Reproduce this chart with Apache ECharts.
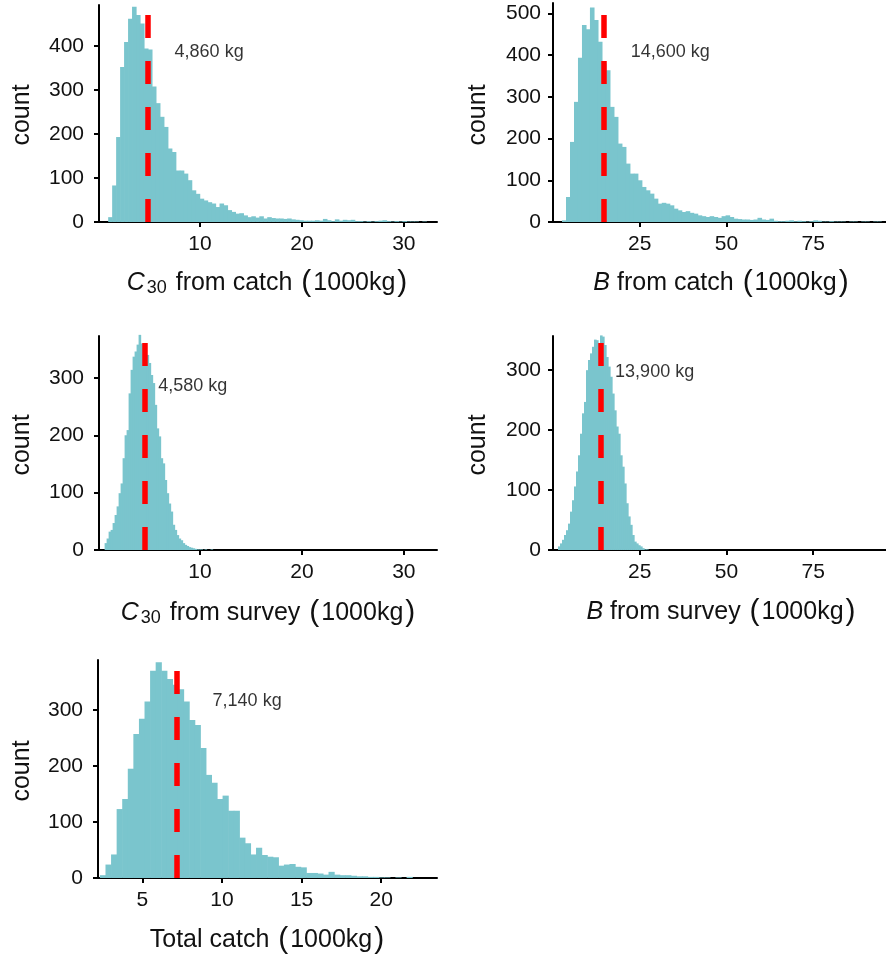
<!DOCTYPE html>
<html><head><meta charset="utf-8">
<script src="https://cdn.jsdelivr.net/npm/echarts@6/dist/echarts.min.js"></script>
<style>html,body{margin:0;padding:0;background:#fff}#c{width:886px;height:957px}</style>
</head><body><div id="c"></div>
<script>
// ---------------- data ----------------
// C30 from catch (1000kg): bins start / width / counts
const c30CatchStart = 1.0;
const c30CatchWidth = 0.39;
const c30CatchCounts = [11, 83, 193, 352, 409, 462, 489, 470, 451, 394, 392, 308, 270, 239, 216, 167, 159, 117, 117, 110,
  95, 72, 64, 53, 49, 45, 42, 34, 42, 38, 27, 23, 19, 20, 15, 11, 13, 10, 13, 8,
  11, 9, 8, 8, 7, 8, 6, 5, 4, 3, 3, 3, 4, 3, 7, 4, 2, 6, 3, 5,
  4, 5, 2, 2, 1, 2, 1, 2, 3, 4, 2, 1, 2, 1, 2, 1, 1, 1, 0, 1];

// B from catch (1000kg)
const bCatchStart = 2.6;
const bCatchWidth = 1.15;
const bCatchCounts = [4, 60, 192, 288, 394, 472, 462, 514, 484, 432, 380, 364, 276, 252, 188, 180, 140, 116, 116, 100,
  84, 76, 68, 56, 44, 46, 44, 40, 32, 28, 24, 26, 22, 20, 16, 14, 12, 14,
  12, 10, 14, 16, 12, 8, 7, 6, 6, 5, 6, 10, 6, 5, 8, 3, 2, 2, 3, 4, 2, 3,
  2, 1, 2, 4, 3, 1, 1, 2, 1, 1, 1, 0, 1, 1, 0, 1, 1, 0, 1, 1];

// C30 from survey (1000kg)
const c30SurveyStart = 0.65;
const c30SurveyWidth = 0.196;
const c30SurveyCounts = [12, 20, 32, 35, 47, 61, 76, 99, 116, 160, 200, 209, 273, 314, 337, 346, 358, 375, 360, 352,
  331, 340, 326, 305, 291, 253, 212, 198, 160, 151, 122, 99, 81, 67, 44, 35, 26, 20, 17, 12,
  9, 7, 5, 4, 3, 2, 1, 1, 1, 0, 1, 0, 0, 1];

// B from survey (1000kg)
const bSurveyStart = 1.44;
const bSurveyWidth = 0.577;
const bSurveyCounts = [6, 11, 17, 25, 33, 44, 64, 83, 106, 131, 158, 194, 228, 247, 300, 317, 328, 339, 351, 350,
  344, 358, 356, 342, 322, 306, 289, 261, 233, 206, 194, 158, 139, 111, 78, 56, 42, 25, 14, 11,
  8, 6, 3, 1, 1];

// Total catch (1000kg)
const totalStart = 2.34;
const totalWidth = 0.35;
const totalCounts = [5, 24, 42, 123, 141, 195, 257, 284, 315, 370, 385, 370, 355, 345, 337, 315, 282, 273, 232, 184,
  170, 141, 147, 120, 120, 72, 62, 42, 54, 41, 38, 37, 22, 24, 25, 20, 19, 9, 9, 8,
  6, 11, 6, 5, 5, 4, 3, 3, 2, 2, 1, 1, 0, 1, 0, 2];

const medians = [4.86, 14.6, 4.58, 13.9, 7.14];
const medianLabels = ['4,860 kg', '14,600 kg', '4,580 kg', '13,900 kg', '7,140 kg'];

const xTicksC30 = [10, 20, 30];
const xTicksB = [25, 50, 75];
const xTicksTotal = [5, 10, 15, 20];
const yTicksC30Catch = [0, 100, 200, 300, 400];
const yTicksBCatch = [0, 100, 200, 300, 400, 500];
const yTicksSurvey = [0, 100, 200, 300];
const yTicksTotal = [0, 100, 200, 300];

const titles = [
  '{i|C}{s|30} from catch {p|(}1000kg{p|)}',
  '{i|B} from catch {p|(}1000kg{p|)}',
  '{i|C}{s|30} from survey {p|(}1000kg{p|)}',
  '{i|B} from survey {p|(}1000kg{p|)}',
  'Total catch {p|(}1000kg{p|)}'
];
const yTitle = 'count';

// ---------------- layout ----------------
const FONT = '"Liberation Sans", Arial, sans-serif';
const BAR = '#7AC5CD';
const TXT = '#111';
const panels = [
  {counts: c30CatchCounts, start: c30CatchStart, width: c30CatchWidth, xTicks: xTicksC30, yTicks: yTicksC30Catch,
   grid: {left: 99, top: 5, width: 338, height: 217}, xMin: 0.1, xMax: 33.25, yMax: 493, yMargin: 15,
   labelAt: [10.9, 386], titleAt: [268, 283], countAt: [22, 115]},
  {counts: bCatchCounts, start: bCatchStart, width: bCatchWidth, xTicks: xTicksB, yTicks: yTicksBCatch,
   grid: {left: 553, top: 3, width: 333, height: 219}, xMin: 0, xMax: 96, yMax: 525, yMargin: 12,
   labelAt: [33.8, 407], titleAt: [722, 283], countAt: [478, 115]},
  {counts: c30SurveyCounts, start: c30SurveyStart, width: c30SurveyWidth, xTicks: xTicksC30, yTicks: yTicksSurvey,
   grid: {left: 99, top: 336, width: 338, height: 214}, xMin: 0.1, xMax: 33.25, yMax: 373, yMargin: 15,
   labelAt: [9.3, 285], titleAt: [269, 613], countAt: [22, 445]},
  {counts: bSurveyCounts, start: bSurveyStart, width: bSurveyWidth, xTicks: xTicksB, yTicks: yTicksSurvey,
   grid: {left: 553, top: 336, width: 333, height: 214}, xMin: 0, xMax: 96, yMax: 357, yMargin: 12,
   labelAt: [29.3, 297], titleAt: [722, 612], countAt: [478, 445]},
  {counts: totalCounts, start: totalStart, width: totalWidth, xTicks: xTicksTotal, yTicks: yTicksTotal,
   grid: {left: 98, top: 660, width: 339, height: 218}, xMin: 2.22, xMax: 23.5, yMax: 389, yMargin: 15,
   labelAt: [11.58, 315], titleAt: [268, 940], countAt: [22, 771]}
];

const axisCommon = {
  axisLine: {show: true, onZero: false, lineStyle: {color: '#000', width: 2}},
  splitLine: {show: false}
};

function renderBar(params, api) {
  const p0 = api.coord([api.value(0), api.value(2)]);
  const p1 = api.coord([api.value(1), 0]);
  return {
    type: 'rect',
    shape: {x: p0[0], y: p0[1], width: p1[0] - p0[0] + 0.6, height: p1[1] - p0[1]},
    style: {fill: BAR}
  };
}

const option = {
  animation: false,
  grid: panels.map(p => p.grid),
  xAxis: panels.map((p, i) => Object.assign({}, axisCommon, {
    type: 'value', gridIndex: i, min: p.xMin, max: p.xMax,
    axisTick: {show: true, length: 5, lineStyle: {color: '#000', width: 2}, customValues: p.xTicks},
    axisLabel: {customValues: p.xTicks, fontSize: 21, color: TXT, fontFamily: FONT, margin: 12}
  })),
  yAxis: panels.map((p, i) => Object.assign({}, axisCommon, {
    type: 'value', gridIndex: i, min: 0, max: p.yMax,
    axisTick: {show: true, length: 5, lineStyle: {color: '#000', width: 2}, customValues: p.yTicks},
    axisLabel: {customValues: p.yTicks, fontSize: 21, color: TXT, fontFamily: FONT, margin: p.yMargin}
  })),
  series: [],
  graphic: []
};

panels.forEach((p, i) => {
  option.series.push({
    type: 'custom', xAxisIndex: i, yAxisIndex: i, z: 2,
    data: p.counts.map((c, k) => [p.start + k * p.width, p.start + (k + 1) * p.width, c]),
    encode: {x: [0, 1], y: 2},
    renderItem: renderBar
  });
  option.series.push({
    type: 'scatter', xAxisIndex: i, yAxisIndex: i, z: 5,
    data: [p.labelAt], symbolSize: 1, itemStyle: {color: 'rgba(0,0,0,0)'},
    label: {show: true, position: 'inside', formatter: medianLabels[i], fontSize: 18, color: '#000',
            textBorderWidth: 0, textBorderColor: 'transparent', fontFamily: FONT},
    markLine: {
      silent: true, symbol: ['none', 'none'], label: {show: false},
      lineStyle: {color: '#ff0000', width: 5.5, type: [23, 23], opacity: 1},
      emphasis: {disabled: true},
      data: [{xAxis: medians[i]}]
    }
  });
  option.graphic.push({
    type: 'text', x: p.titleAt[0], y: p.titleAt[1], z: 10,
    style: {
      text: titles[i], fill: TXT, fontSize: 25, fontFamily: FONT, lineHeight: 28,
      align: 'center', verticalAlign: 'middle',
      rich: {
        i: {fontStyle: 'italic', fontSize: 25, lineHeight: 28, fontFamily: FONT},
        s: {fontSize: 18, lineHeight: 18, padding: [14, 2, 0, 2], verticalAlign: 'bottom', fontFamily: FONT},
        p: {fontSize: 30, lineHeight: 28, fontFamily: FONT, padding: [0, 2, 0, 2]}
      }
    }
  });
  option.graphic.push({
    type: 'text', x: p.countAt[0], y: p.countAt[1], rotation: Math.PI / 2, z: 10,
    style: {text: yTitle, fill: TXT, fontSize: 25, fontFamily: FONT, align: 'center', verticalAlign: 'middle'}
  });
});

const chart = echarts.init(document.getElementById('c'), null, {renderer: 'canvas'});
chart.setOption(option);
</script>
</body></html>
